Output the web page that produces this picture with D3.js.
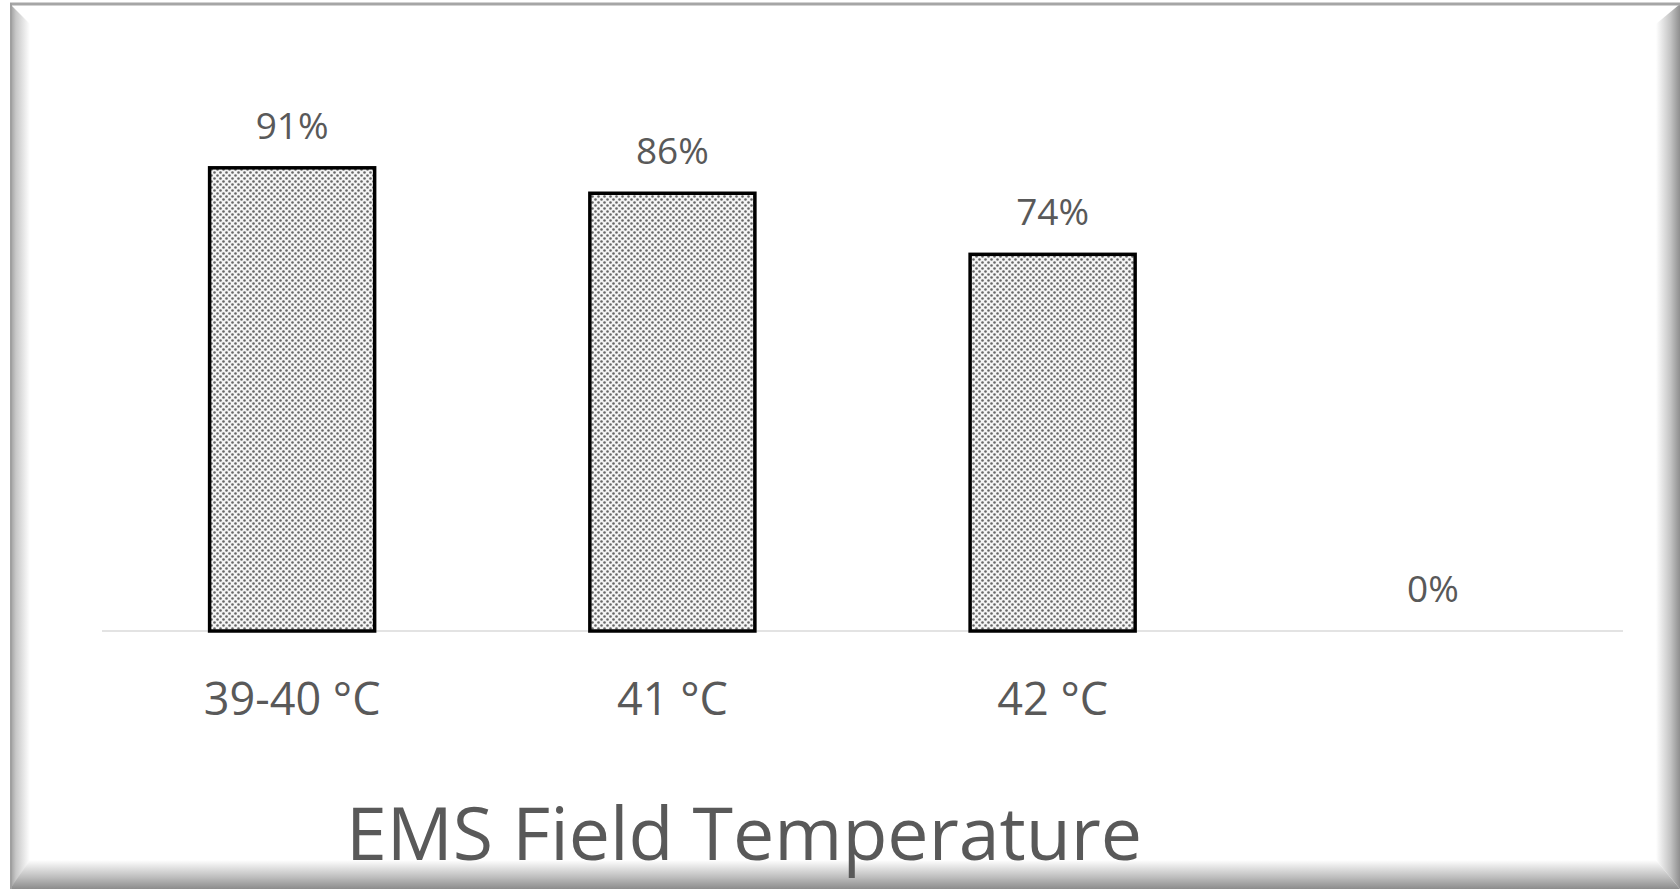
<!DOCTYPE html>
<html>
<head>
<meta charset="utf-8">
<script src="https://cdn.jsdelivr.net/npm/d3@7.9.0/dist/d3.min.js"></script>
<style>
  html, body { margin: 0; padding: 0; background: #fff; }
  svg { display: block; }
</style>
</head>
<body>
<div id="chart"></div>
<script>
// data
const categories = ['39-40 °C', '41 °C', '42 °C', ''];
const values = [91, 86, 74, 0];
const valueLabels = ['91%', '86%', '74%', '0%'];
const title = 'EMS Field Temperature';

const width = 1680;
const height = 889;
const margin = { top: 122, right: 57, bottom: 258, left: 102 }; // plot area 102..1623, baseline 631

const svg = d3.select('#chart')
  .append('svg')
  .attr('width', width)
  .attr('height', height);

const defs = svg.append('defs');

// dotted fill for the bars
const pat = defs.append('pattern')
  .attr('id', 'dots')
  .attr('patternUnits', 'userSpaceOnUse')
  .attr('width', 6)
  .attr('height', 6);
pat.append('rect').attr('width', 6).attr('height', 6).attr('fill', '#f4f4f4');
pat.append('circle').attr('cx', 1.5).attr('cy', 1.5).attr('r', 1.3).attr('fill', '#666');
pat.append('circle').attr('cx', 4.5).attr('cy', 4.5).attr('r', 1.3).attr('fill', '#666');

// gradients for the bevelled frame
function grad(id, x1, y1, x2, y2, stops) {
  const g = defs.append('linearGradient').attr('id', id)
    .attr('x1', x1).attr('y1', y1).attr('x2', x2).attr('y2', y2);
  stops.forEach(([o, c]) => g.append('stop').attr('offset', o).attr('stop-color', c));
}
grad('gLeft', 0, 0, 1, 0, [[0, '#9a9a9a'], [0.3, '#c8c8c8'], [1, '#ffffff']]);
grad('gRight', 0, 0, 1, 0, [[0, '#ffffff'], [0.6, '#c4c4c4'], [1, '#8e8e8e']]);
grad('gBottom', 0, 0, 0, 1, [[0, '#ffffff'], [0.6, '#bdbdbd'], [1, '#8c8c8c']]);

// frame
const frame = svg.append('g').attr('class', 'frame');
frame.append('rect')
  .attr('x', 10).attr('y', 3)
  .attr('width', width - 10).attr('height', height - 3)
  .attr('fill', '#fff');
frame.append('polygon')
  .attr('points', `10,4 30,24 30,865 10,889`)
  .attr('fill', 'url(#gLeft)');
frame.append('polygon')
  .attr('points', `1656,24 1680,4 1680,889 1656,860`)
  .attr('fill', 'url(#gRight)');
frame.append('polygon')
  .attr('points', `30,860 1656,860 1680,889 10,889`)
  .attr('fill', 'url(#gBottom)');
frame.append('line')
  .attr('x1', 10).attr('x2', width).attr('y1', 4).attr('y2', 4)
  .attr('stroke', '#a6a6a6').attr('stroke-width', 3);
frame.append('line')
  .attr('x1', 11).attr('x2', 11).attr('y1', 3).attr('y2', height)
  .attr('stroke', '#a0a0a0').attr('stroke-width', 2);

// scales
const xScale = d3.scaleBand()
  .domain(d3.range(categories.length))
  .range([margin.left, width - margin.right])
  .paddingInner(0.566)
  .paddingOuter(0.283);

const yScale = d3.scaleLinear()
  .domain([0, 100])
  .range([height - margin.bottom, margin.top]);

const baseY = yScale(0);

// axis line
svg.append('line')
  .attr('x1', margin.left).attr('x2', width - margin.right)
  .attr('y1', baseY).attr('y2', baseY)
  .attr('stroke', '#e3e3e3').attr('stroke-width', 2);

// bars
svg.append('g')
  .selectAll('rect')
  .data(values.map((v, i) => ({ v, i })).filter(d => d.v > 0))
  .join('rect')
  .attr('x', d => xScale(d.i))
  .attr('y', d => yScale(d.v))
  .attr('width', xScale.bandwidth())
  .attr('height', d => baseY - yScale(d.v))
  .attr('fill', 'url(#dots)')
  .attr('stroke', '#000')
  .attr('stroke-width', 3.5);

const font = '"Open Sans", "Noto Sans", "Liberation Sans", sans-serif';

// value labels
svg.append('g')
  .selectAll('text')
  .data(values)
  .join('text')
  .attr('x', (d, i) => xScale(i) + xScale.bandwidth() / 2)
  .attr('y', d => yScale(d) - 29)
  .attr('text-anchor', 'middle')
  .attr('font-family', font)
  .attr('font-size', 37)
  .attr('fill', '#595959')
  .text((d, i) => valueLabels[i]);

// category labels
svg.append('g')
  .selectAll('text')
  .data(categories)
  .join('text')
  .attr('x', (d, i) => xScale(i) + xScale.bandwidth() / 2)
  .attr('y', baseY + 84)
  .attr('text-anchor', 'middle')
  .attr('font-family', font)
  .attr('font-size', 45)
  .attr('fill', '#595959')
  .text(d => d);

// title
svg.append('text')
  .attr('x', 744)
  .attr('y', 860)
  .attr('text-anchor', 'middle')
  .attr('font-family', font)
  .attr('font-size', 73.5)
  .attr('fill', '#595959')
  .text(title);
</script>
</body>
</html>
